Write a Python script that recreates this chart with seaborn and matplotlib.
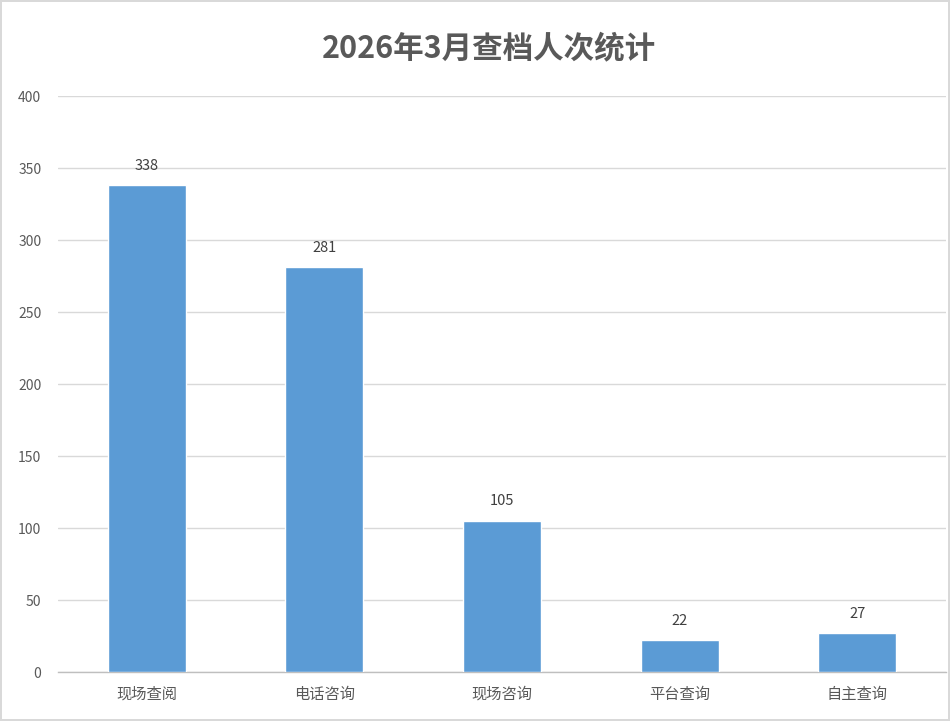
import matplotlib
matplotlib.use("Agg")
import matplotlib.pyplot as plt
import seaborn as sns
import pandas as pd
from matplotlib.ticker import FixedLocator

categories = ["现场查阅", "电话咨询", "现场咨询", "平台查询", "自主查询"]
counts = [338, 281, 105, 22, 27]
title = "2026年3月查档人次统计"

sns.set_style("white")
plt.rcParams['font.family'] = ['Noto Sans CJK SC', 'DejaVu Sans']

df = pd.DataFrame({"category": categories, "count": counts})

fig = plt.figure(figsize=(9.5, 7.21), dpi=100, edgecolor="#d9d9d9", linewidth=1.5)
ax = fig.add_axes([58 / 950, 1 - 672 / 721, 888 / 950, 576 / 721])

sns.barplot(data=df, x="category", y="count", color="#5b9bd5", width=0.44,
            saturation=1, ax=ax, zorder=3)

ax.set_xlim(-0.5, len(categories) - 0.5)
ax.set_ylim(0, 400)
ax.set_yticks(range(0, 401, 50))
ax.grid(axis="y", color="#d9d9d9", linewidth=1, zorder=0)
ax.set_axisbelow(True)
for s in ["top", "right", "left"]:
    ax.spines[s].set_visible(False)
ax.spines["bottom"].set_color("#bfbfbf")
ax.spines["bottom"].set_linewidth(1)

ax.xaxis.set_minor_locator(FixedLocator([i - 0.5 for i in range(len(categories) + 1)]))
ax.tick_params(axis="x", which="minor", length=6, color="#bfbfbf", width=1)
ax.tick_params(axis="x", which="major", length=0, pad=10, labelsize=11, labelcolor="#595959")
ax.tick_params(axis="y", length=0, pad=12, labelsize=10, labelcolor="#595959")
ax.set_xlabel("")
ax.set_ylabel("")

for i, v in enumerate(counts):
    ax.annotate(str(v), (i, v), xytext=(0, 9), textcoords="offset points",
                ha="center", va="bottom", fontsize=10.5, color="#404040")

fig.text(489 / 950, 1 - 48 / 721, title, ha="center", va="center", fontsize=22,
         fontweight="bold", color="#595959")

fig.savefig("out.png", dpi=100)
